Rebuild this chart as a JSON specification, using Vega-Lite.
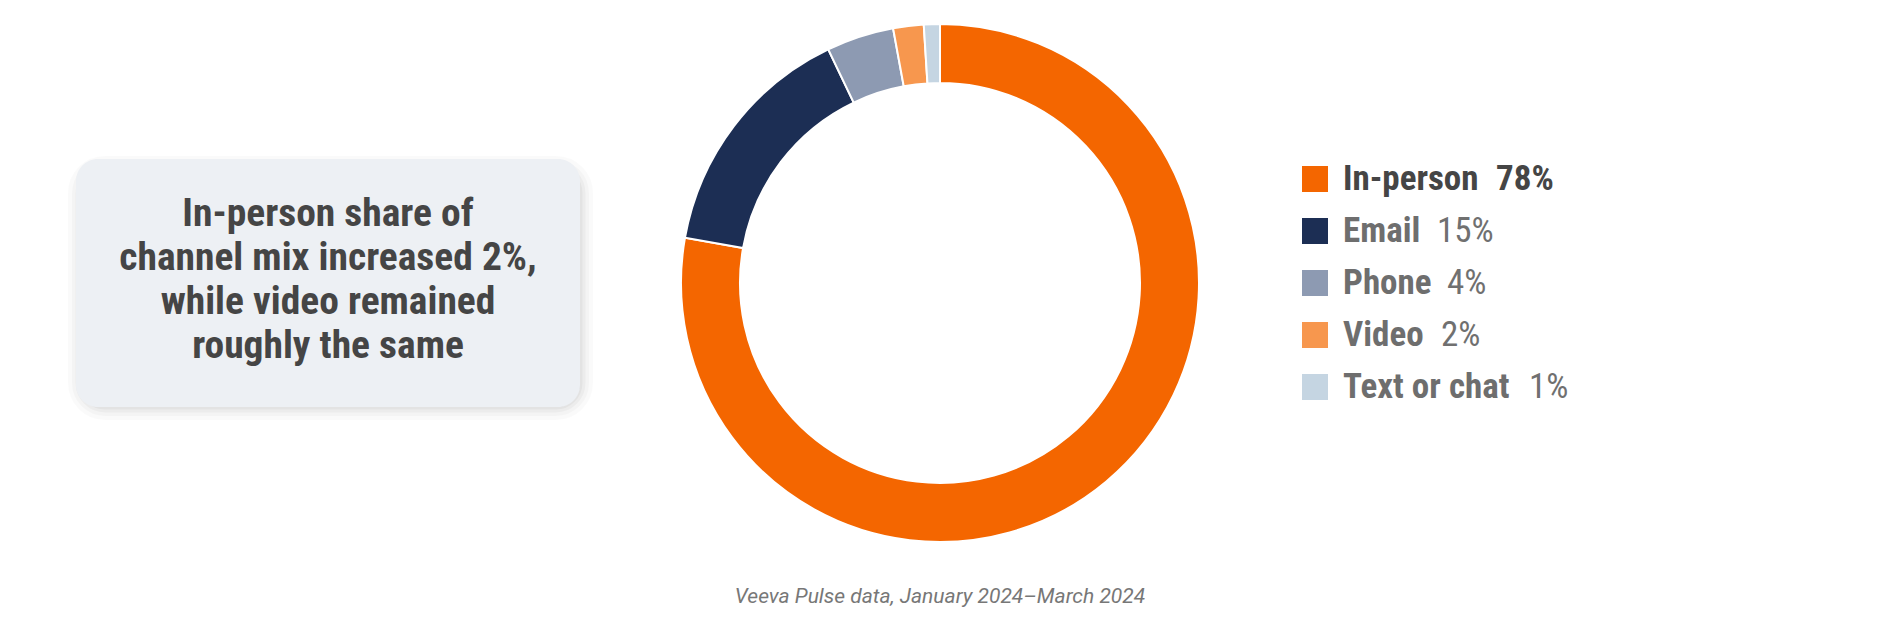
{
  "$schema": "https://vega.github.io/schema/vega-lite/v6.json",
  "padding": {"left": 68, "top": 20, "right": 0, "bottom": 0},
  "bounds": "flush",
  "spacing": 100,
  "center": true,
  "config": {"font": "Roboto Condensed, Roboto, sans-serif", "view": {"stroke": null}},
  "datasets": {
    "channels": [
      {"channel": "In-person", "share": 77.8, "label": "78%", "rank": 1},
      {"channel": "Email", "share": 15.1, "label": "15%", "rank": 2},
      {"channel": "Phone", "share": 4.2, "label": "4%", "rank": 3},
      {"channel": "Video", "share": 1.9, "label": "2%", "rank": 4},
      {"channel": "Text or chat", "share": 1.0, "label": "1%", "rank": 5}
    ],
    "note": [
      {"text": "In-person share of\nchannel mix increased 2%,\nwhile video remained\nroughly the same"}
    ]
  },
  "hconcat": [
    {
      "width": 504,
      "height": 248,
      "data": {"name": "note"},
      "encoding": {
        "x": {"value": 0},
        "x2": {"value": "width"},
        "y": {"value": 0},
        "y2": {"value": "height"}
      },
      "layer": [
        {"mark": {"type": "rect", "cornerRadius": 24, "xOffset": 5, "yOffset": 10, "fill": "#000000", "fillOpacity": 0.03, "stroke": "#000000", "strokeOpacity": 0.02, "strokeWidth": 26}},
        {"mark": {"type": "rect", "cornerRadius": 24, "xOffset": 5, "yOffset": 10, "fill": "#000000", "fillOpacity": 0.03, "stroke": "#000000", "strokeOpacity": 0.025, "strokeWidth": 18}},
        {"mark": {"type": "rect", "cornerRadius": 24, "xOffset": 5, "yOffset": 10, "fill": "#000000", "fillOpacity": 0.03, "stroke": "#000000", "strokeOpacity": 0.03, "strokeWidth": 11}},
        {"mark": {"type": "rect", "cornerRadius": 24, "xOffset": 5, "yOffset": 10, "fill": "#000000", "fillOpacity": 0.03, "stroke": "#000000", "strokeOpacity": 0.035, "strokeWidth": 5}},
        {"mark": {"type": "rect", "cornerRadius": 22, "fill": "#edf0f4", "stroke": null}},
        {
          "mark": {
            "type": "text",
            "font": "Roboto Condensed, Roboto, sans-serif",
            "fontWeight": "bold",
            "fontSize": 39.5,
            "color": "#454545",
            "lineBreak": "\n",
            "lineHeight": 44,
            "align": "center",
            "baseline": "middle",
            "dy": -69
          },
          "encoding": {
            "x": {"value": 252},
            "x2": null,
            "y": {"value": 124},
            "y2": null,
            "text": {"field": "text"}
          }
        }
      ]
    },
    {
      "width": 520,
      "height": 520,
      "data": {"name": "channels"},
      "title": {
        "text": "Veeva Pulse data, January 2024–March 2024",
        "orient": "bottom",
        "anchor": "middle",
        "font": "Roboto, sans-serif",
        "fontStyle": "italic",
        "fontWeight": "normal",
        "fontSize": 21,
        "color": "#777777",
        "baseline": "top",
        "offset": 40
      },
      "mark": {"type": "arc", "outerRadius": 259, "innerRadius": 200, "stroke": "white", "strokeWidth": 2},
      "encoding": {
        "theta": {"field": "share", "type": "quantitative", "stack": true},
        "order": {"field": "rank", "type": "quantitative"},
        "color": {
          "field": "channel",
          "type": "nominal",
          "scale": {
            "domain": ["In-person", "Email", "Phone", "Video", "Text or chat"],
            "range": ["#f46600", "#1c2e54", "#8d9ab2", "#f7974e", "#c5d5e2"]
          },
          "legend": null
        }
      }
    },
    {
      "width": 280,
      "height": 260,
      "data": {"name": "channels"},
      "encoding": {
        "y": {"field": "channel", "type": "nominal", "sort": {"field": "rank"}, "axis": null}
      },
      "layer": [
        {
          "mark": {"type": "square", "size": 676, "filled": true, "opacity": 1},
          "encoding": {
            "x": {"value": 15},
            "color": {
              "field": "channel",
              "type": "nominal",
              "scale": {
                "domain": ["In-person", "Email", "Phone", "Video", "Text or chat"],
                "range": ["#f46600", "#1c2e54", "#8d9ab2", "#f7974e", "#c5d5e2"]
              },
              "legend": null
            }
          }
        },
        {
          "mark": {
            "type": "text",
            "align": "left",
            "baseline": "middle",
            "fontWeight": "bold",
            "fontSize": 35,
            "font": "Roboto Condensed, Roboto, sans-serif",
            "dx": 28
          },
          "encoding": {
            "x": {"value": 15},
            "text": {"field": "channel"},
            "color": {"condition": {"test": "datum.channel === 'In-person'", "value": "#454545"}, "value": "#6e6e6e"}
          }
        },
        {
          "mark": {
            "type": "text",
            "align": "left",
            "baseline": "middle",
            "fontSize": 35,
            "font": "Roboto Condensed, Roboto, sans-serif",
            "fontWeight": {"expr": "datum.channel === 'In-person' ? 'bold' : 'normal'"},
            "dx": {"expr": "datum.channel === 'In-person' ? 181 : datum.channel === 'Email' ? 122 : datum.channel === 'Phone' ? 132 : datum.channel === 'Video' ? 126 : 214"}
          },
          "encoding": {
            "x": {"value": 15},
            "text": {"field": "label"},
            "color": {"condition": {"test": "datum.channel === 'In-person'", "value": "#454545"}, "value": "#707070"}
          }
        }
      ]
    }
  ]
}
